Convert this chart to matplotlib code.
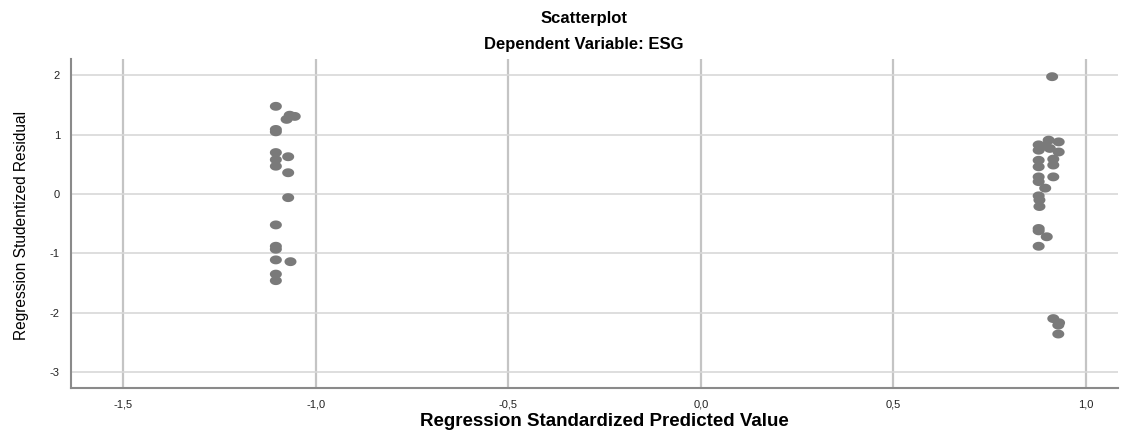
import numpy as np
import matplotlib
matplotlib.use("Agg")
import matplotlib.pyplot as plt
from matplotlib.path import Path
from matplotlib.ticker import FuncFormatter

plt.rcParams['font.family'] = ['Liberation Sans', 'DejaVu Sans']

# predicted values (x) and studentized residuals (y)
left_x = [-1.104, -1.068, -1.055, -1.076, -1.104, -1.104, -1.104, -1.072, -1.104,
          -1.104, -1.072, -1.072, -1.104, -1.104, -1.104, -1.104, -1.066, -1.104, -1.104]
left_y = [1.48, 1.33, 1.31, 1.26, 1.09, 1.05, 0.70, 0.63, 0.58,
          0.47, 0.36, -0.06, -0.52, -0.88, -0.93, -1.11, -1.14, -1.35, -1.46]

right_x = [0.912, 0.903, 0.929, 0.877, 0.894, 0.877, 0.906, 0.929, 0.915, 0.877,
           0.915, 0.877, 0.877, 0.915, 0.877, 0.894, 0.877, 0.879, 0.879, 0.877,
           0.877, 0.898, 0.877, 0.915, 0.930, 0.928, 0.928]
right_y = [1.98, 0.91, 0.88, 0.83, 0.81, 0.74, 0.77, 0.71, 0.59, 0.57,
           0.49, 0.46, 0.29, 0.29, 0.21, 0.10, -0.03, -0.10, -0.21, -0.58,
           -0.62, -0.72, -0.88, -2.10, -2.17, -2.21, -2.36]

x_ticks = [-1.5, -1.0, -0.5, 0.0, 0.5, 1.0]
y_ticks = [-3, -2, -1, 0, 1, 2]

# elliptical marker, wider than tall
t = np.linspace(0, 2 * np.pi, 40)
ellipse = Path(np.column_stack([1.35 * np.cos(t), np.sin(t)]), closed=True)

fig = plt.figure(figsize=(11.27, 4.33), dpi=100)
ax = fig.add_axes([0.063, 0.104, 0.929, 0.760])

ax.scatter(left_x + right_x, left_y + right_y, marker=ellipse, s=75,
           color='#7a7a7a', edgecolors='none', zorder=3)

ax.set_xlim(-1.636, 1.083)
ax.set_ylim(-3.27, 2.28)
ax.set_xticks(x_ticks)
ax.set_yticks(y_ticks)
ax.xaxis.set_major_formatter(FuncFormatter(lambda v, p: f"{v:.1f}".replace('.', ',')))
ax.yaxis.set_major_formatter(FuncFormatter(lambda v, p: f"{v:.0f}"))
ax.tick_params(length=0, labelsize=8, pad=8, colors='#222222')

ax.xaxis.grid(True, color='#c4c4c4', lw=1.6)
ax.yaxis.grid(True, color='#d8d8d8', lw=1.2)
ax.set_axisbelow(True)
for s in ['top', 'right']:
    ax.spines[s].set_visible(False)
for s in ['left', 'bottom']:
    ax.spines[s].set_color('#8a8a8a')
    ax.spines[s].set_linewidth(1.5)

fig.text(0.536, 1 - 421 / 433, 'Regression Standardized Predicted Value',
         ha='center', va='center', fontsize=13.5, fontweight='bold')
fig.text(0.019, 1 - 225 / 433, 'Regression Studentized Residual', rotation=90,
         ha='center', va='center', fontsize=11.2)

fig.text(0.518, 1 - 19 / 433, 'Scatterplot', ha='center', va='center',
         fontsize=12, fontweight='bold')
fig.text(0.518, 1 - 45 / 433, 'Dependent Variable: ESG', ha='center', va='center',
         fontsize=12, fontweight='bold')

fig.savefig('out.png', dpi=100)
